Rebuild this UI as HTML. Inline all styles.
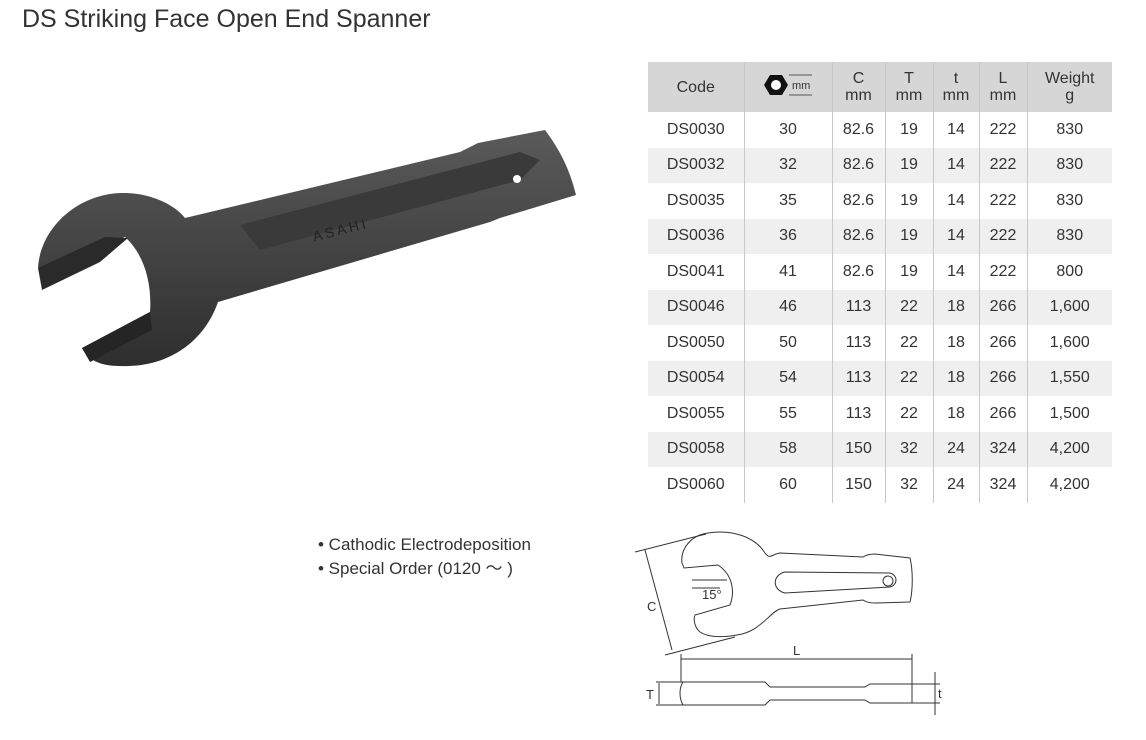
<!DOCTYPE html>
<html><head><meta charset="utf-8"><style>
body{margin:0;width:1146px;height:739px;background:#fff;font-family:"Liberation Sans","Noto Sans CJK JP",sans-serif;color:#333;position:relative;overflow:hidden}
.title{position:absolute;left:22px;top:5px;font-size:25px;color:#333}
table{position:absolute;left:648px;top:62px;border-collapse:collapse;font-size:16px;color:#333;table-layout:fixed;width:464px}
td,th{text-align:center;padding:0;font-weight:normal;border-left:1px solid #c8c8c8}
th{background:#d6d6d6;height:50px;line-height:17px}
td{height:35.5px}
tr:nth-child(odd) td{background:#efefef}
.bul{position:absolute;left:318px;top:533px;font-size:17px;line-height:24px;color:#333}
</style></head><body>
<div class="title">DS Striking Face Open End Spanner</div>
<svg width="600" height="400" style="position:absolute;left:0;top:0">
<defs><linearGradient id="g" x1="0" y1="0" x2="0" y2="1"><stop offset="0" stop-color="#5a5a5a"/><stop offset="1" stop-color="#2e2e2e"/></linearGradient></defs>
<path d="M38,268 C40,230 75,195 120,193 C150,192 175,205 185,218 L460,152 L478,143 L545,130 C560,150 570,170 576,195 L500,218 L490,222 L218,302 C205,340 170,368 120,366 C100,366 88,360 82,348 L150,312 C152,285 145,255 125,237 Z" fill="url(#g)"/>
<path d="M38,268 L105,237 L128,238 L100,262 L42,290 Z" fill="#2a2a2a"/>
<path d="M82,348 L150,312 L152,330 L90,362 Z" fill="#252525"/>
<path d="M240,225 L520,152 L540,160 L520,180 L260,250 Z" fill="#3a3a3a"/>
<text x="310" y="232" font-size="14" fill="#222" transform="rotate(-14 350 220)" font-family="Liberation Sans" letter-spacing="3">ASAHI</text>
<circle cx="517" cy="179" r="4" fill="#fff"/>
</svg>
<table>
<colgroup><col style="width:96px"><col style="width:88px"><col style="width:53px"><col style="width:48px"><col style="width:46px"><col style="width:48px"><col style="width:85px"></colgroup>
<tr><th style="border-left:none">Code</th><th><svg width="52" height="26" viewBox="0 0 52 26"><polygon points="2,13 8,3 20,3 26,13 20,23 8,23" fill="#111"/><circle cx="14" cy="13" r="5" fill="#fff"/><line x1="27" y1="3" x2="50" y2="3" stroke="#555"/><line x1="27" y1="23" x2="50" y2="23" stroke="#555"/><text x="30" y="17" font-size="11" fill="#333">mm</text></svg></th><th>C<br>mm</th><th>T<br>mm</th><th>t<br>mm</th><th>L<br>mm</th><th>Weight<br>g</th></tr>
<tr><td style="border-left:none">DS0030</td><td>30</td><td>82.6</td><td>19</td><td>14</td><td>222</td><td>830</td></tr>
<tr><td style="border-left:none">DS0032</td><td>32</td><td>82.6</td><td>19</td><td>14</td><td>222</td><td>830</td></tr>
<tr><td style="border-left:none">DS0035</td><td>35</td><td>82.6</td><td>19</td><td>14</td><td>222</td><td>830</td></tr>
<tr><td style="border-left:none">DS0036</td><td>36</td><td>82.6</td><td>19</td><td>14</td><td>222</td><td>830</td></tr>
<tr><td style="border-left:none">DS0041</td><td>41</td><td>82.6</td><td>19</td><td>14</td><td>222</td><td>800</td></tr>
<tr><td style="border-left:none">DS0046</td><td>46</td><td>113</td><td>22</td><td>18</td><td>266</td><td>1,600</td></tr>
<tr><td style="border-left:none">DS0050</td><td>50</td><td>113</td><td>22</td><td>18</td><td>266</td><td>1,600</td></tr>
<tr><td style="border-left:none">DS0054</td><td>54</td><td>113</td><td>22</td><td>18</td><td>266</td><td>1,550</td></tr>
<tr><td style="border-left:none">DS0055</td><td>55</td><td>113</td><td>22</td><td>18</td><td>266</td><td>1,500</td></tr>
<tr><td style="border-left:none">DS0058</td><td>58</td><td>150</td><td>32</td><td>24</td><td>324</td><td>4,200</td></tr>
<tr><td style="border-left:none">DS0060</td><td>60</td><td>150</td><td>32</td><td>24</td><td>324</td><td>4,200</td></tr>
</table>
<div class="bul">• Cathodic Electrodeposition<br>• Special Order (0120 ～ )</div>
<svg width="340" height="220" style="position:absolute;left:620px;top:520px" fill="none" stroke="#333" stroke-width="1">
<path d="M62,43 C60,28 72,15 88,13 C112,9 135,17 145,33 C150,40 152,34 160,33 L243,37 C246,35 250,34 255,34 L290,38 C293,50 293,70 290,82 L255,83 C250,83 246,82 243,80 L160,89 C150,92 140,112 117,115 C100,118 88,117 80,112 C75,108 73,100 75,95 L110,85 C115,72 113,55 98,45 L64,48 Z"/>
<path d="M165,52 L270,53 C278,55 278,65 270,67 L165,73 C152,70 152,55 165,52 Z"/>
<circle cx="268" cy="61" r="5"/>
<line x1="72" y1="60" x2="107" y2="60"/><line x1="72" y1="68" x2="100" y2="68"/>
<text x="82" y="79" font-size="13" fill="#333" stroke="none" font-family="Liberation Sans">15°</text>
<line x1="15" y1="32" x2="86" y2="14"/><line x1="45" y1="135" x2="115" y2="117"/>
<line x1="25" y1="30" x2="52" y2="130"/>
<text x="27" y="91" font-size="13" fill="#333" stroke="none" font-family="Liberation Sans">C</text>
<line x1="61" y1="139" x2="292" y2="139"/><line x1="61" y1="134" x2="61" y2="162"/><line x1="292" y1="134" x2="292" y2="165"/>
<text x="173" y="135" font-size="13" fill="#333" stroke="none" font-family="Liberation Sans">L</text>
<path d="M63,162 L145,162 L150,167 L245,167 L250,164 L292,164 L292,183 L250,183 L245,180 L150,180 L145,185 L63,185 C59,178 59,168 63,162 Z"/>
<line x1="36" y1="162" x2="63" y2="162"/><line x1="36" y1="185" x2="63" y2="185"/><line x1="39" y1="163" x2="39" y2="184"/>
<text x="26" y="179" font-size="13" fill="#333" stroke="none" font-family="Liberation Sans">T</text>
<line x1="292" y1="164" x2="320" y2="164"/><line x1="292" y1="183" x2="320" y2="183"/><line x1="315" y1="152" x2="315" y2="195"/>
<text x="318" y="178" font-size="13" fill="#333" stroke="none" font-family="Liberation Sans">t</text>
</svg>
</body></html>
